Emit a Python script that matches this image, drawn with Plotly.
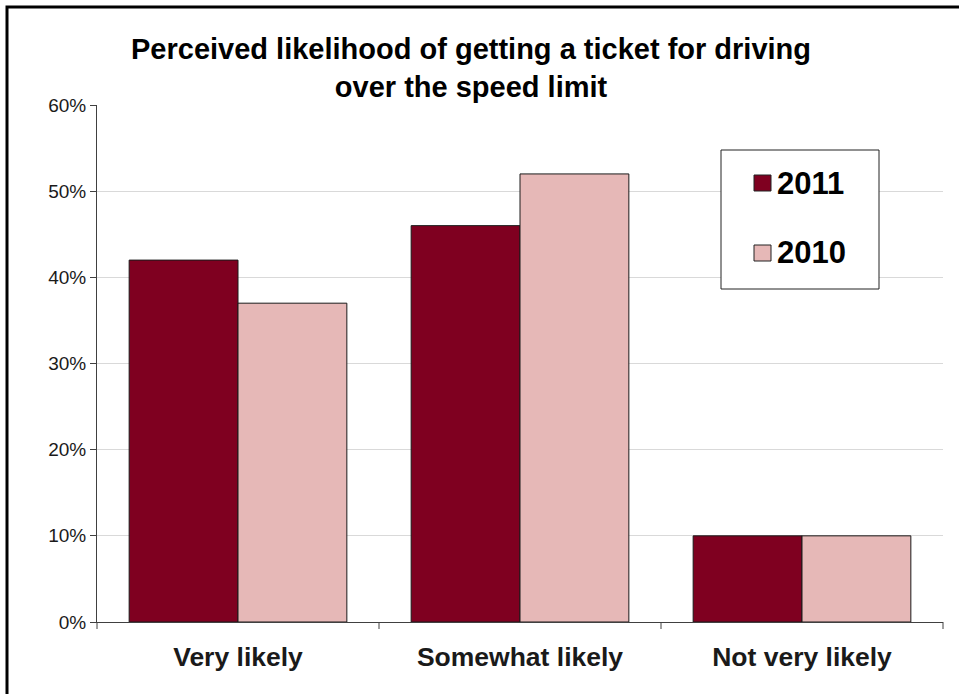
import plotly.graph_objects as go

categories = ["Very likely", "Somewhat likely", "Not very likely"]
series_names = ["2011", "2010"]
values_2011 = [0.42, 0.46, 0.10]
values_2010 = [0.37, 0.52, 0.10]
tick_vals = [0, 0.1, 0.2, 0.3, 0.4, 0.5, 0.6]
tick_text = ["0%", "10%", "20%", "30%", "40%", "50%", "60%"]
colors = ["#7F0020", "#E6B8B7"]

FONT = "Liberation Sans, Arial, sans-serif"

fig = go.Figure()
for name, vals, col in zip(series_names, [values_2011, values_2010], colors):
    fig.add_trace(go.Bar(
        x=categories, y=vals, name=name, showlegend=False,
        marker=dict(color=col, line=dict(color="#1a1a1a", width=1)),
    ))

L, R, T, B = 97, 16, 105, 72
W, H = 959, 694
pw, ph = W - L - R, H - T - B

def px(x):
    return (x - L) / pw

def py(y):
    return (H - B - y) / ph

fig.update_layout(
    width=W, height=H,
    margin=dict(l=L, r=R, t=T, b=B),
    paper_bgcolor="white", plot_bgcolor="white",
    barmode="group", bargap=0.228, bargroupgap=0,
    font=dict(family=FONT, color="#000000"),
    showlegend=False,
    xaxis=dict(
        showline=True, linecolor="#404040", linewidth=1,
        ticks="", showgrid=False,
        tickfont=dict(size=26.5, weight="bold", family=FONT, color="#1a1a1a"),
        ticklabelstandoff=11,
    ),
    yaxis=dict(
        range=[0, 0.6], tickvals=tick_vals, ticktext=tick_text,
        showline=True, linecolor="#404040", linewidth=1,
        ticks="outside", ticklen=6, tickcolor="#404040",
        showgrid=True, gridcolor="#D9D9D9", gridwidth=1,
        tickfont=dict(size=19, family=FONT, color="#1a1a1a"),
        zeroline=False,
    ),
)

annotations = [dict(
    text="<b>Perceived likelihood of getting a ticket for driving<br>over the speed limit</b>",
    xref="paper", yref="paper", x=px(471), y=py(68), xanchor="center", yanchor="middle",
    showarrow=False, font=dict(size=29, family=FONT, color="#000000"),
)]

# category boundary ticks on x-axis
shapes = []
for i in range(len(categories) + 1):
    xp = i / len(categories)
    shapes.append(dict(type="line", xref="paper", yref="paper", x0=xp, x1=xp,
                       y0=0, y1=-7 / ph, line=dict(color="#404040", width=1)))

# legend (drawn manually to match the reference box)
shapes.append(dict(type="rect", xref="paper", yref="paper",
                   x0=px(721), x1=px(879), y0=py(150), y1=py(289),
                   line=dict(color="#222222", width=1), fillcolor="white", layer="above"))
for i, (name, col) in enumerate(zip(series_names, colors)):
    cy = 183 + 70 * i
    shapes.append(dict(type="rect", xref="paper", yref="paper",
                       x0=px(754), x1=px(771), y0=py(cy - 8), y1=py(cy + 8),
                       line=dict(color="#222222", width=1), fillcolor=col, layer="above"))
    annotations.append(dict(text="<b>" + name + "</b>", xref="paper", yref="paper",
                            x=px(775), y=py(cy), xanchor="left", yanchor="middle",
                            showarrow=False, font=dict(size=31, family=FONT, color="#000000")))

# outer frame
shapes.append(dict(type="rect", xref="paper", yref="paper",
                   x0=px(7), x1=px(W + 10), y0=py(7), y1=py(H + 10),
                   line=dict(color="#000000", width=3), fillcolor="rgba(0,0,0,0)", layer="above"))
fig.update_layout(shapes=shapes, annotations=annotations)

fig.write_html("out.html")
